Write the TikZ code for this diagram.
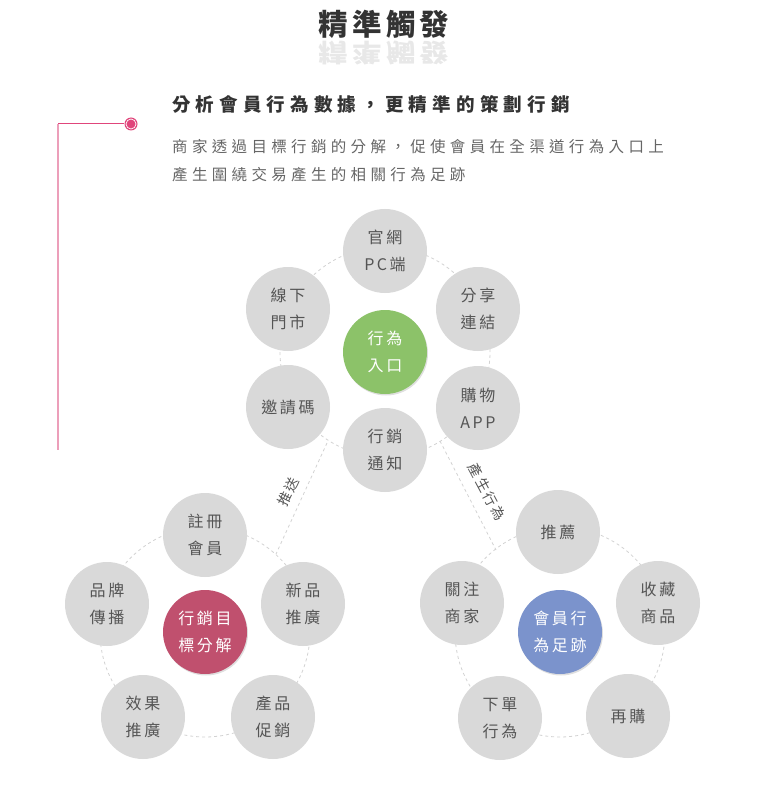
\documentclass[tikz,border=0pt]{standalone}
\usepackage{fontspec}
\setmainfont{Noto Sans CJK TC}
\newfontfamily\titlefam[LetterSpace=14]{Noto Sans CJK TC}
\newfontfamily\subfam[LetterSpace=28]{Noto Sans CJK TC}
\newfontfamily\bodyfam[LetterSpace=28]{Noto Sans CJK TC}
\newfontfamily\bubfam[LetterSpace=16]{Noto Sans CJK TC}
\newcommand\titlefont{\titlefam\bfseries\fontsize{29.5}{33}\selectfont}
\newcommand\subfont{\subfam\bfseries\fontsize{18.5}{22}\selectfont}
\newcommand\bodyfont{\bodyfam\fontsize{15.5}{20}\selectfont}
\newcommand\bubfont{\bubfam\fontsize{16}{27}\selectfont}
\newcommand\lblfont{\bubfam\fontsize{14}{18}\selectfont}
\usetikzlibrary{shadows}
\definecolor{circgray}{HTML}{D9D9D9}
\definecolor{txtgray}{HTML}{555555}
\definecolor{titlegray}{HTML}{333333}
\definecolor{bodygray}{HTML}{666666}
\definecolor{greenc}{HTML}{8CC269}
\definecolor{redc}{HTML}{C0506E}
\definecolor{bluec}{HTML}{7B93CC}
\definecolor{pinkdot}{HTML}{E0457B}
\definecolor{pinkline}{HTML}{EC9FBA}
\definecolor{ringgray}{HTML}{D2D2D2}
\tikzset{
  bub/.style={circle, fill=circgray, minimum size=84pt, inner sep=0pt, align=center, text=txtgray, font=\bubfont},
  ctr/.style={bub, fill=#1, text=white, drop shadow={opacity=0.25, shadow xshift=1pt, shadow yshift=-1.5pt}},
  ring/.style={draw=ringgray, line width=0.8pt, dash pattern=on 3pt off 3pt},
  conn/.style={draw=ringgray, line width=0.8pt, dash pattern=on 3pt off 3pt},
  lbl/.style={text=txtgray, font=\lblfont, inner sep=1pt},
}
\begin{document}
\begin{tikzpicture}[x=1pt, y=-1pt]
\useasboundingbox (0,0) rectangle (769,799);
% title
\node[font=\titlefont, text=titlegray] (title) at (384,24) {精準觸發};
\node[font=\titlefont, text=black!9, yscale=-0.85] (refl) at (384,53) {精準觸發};
% accent line
\coordinate (lc0) at (58,124);
\coordinate (lc1) at (58,450);
\node[circle, fill=pinkdot, minimum size=13pt, inner sep=0pt] (dot) at (131,124) {};
\draw[white, line width=0.7pt] (dot.center) circle[radius=5pt];
\draw[pinkline, line width=2pt] (lc0) -- (lc1);
\draw[pinkdot, line width=1pt] (lc0) -- (dot);
% texts
\node[anchor=west, font=\subfont, text=titlegray, inner sep=0pt] (sub) at (172,104) {分析會員行為數據，更精準的策劃行銷};
\node[anchor=west, font=\bodyfont, text=bodygray, inner sep=0pt] (body1) at (172,147) {商家透過目標行銷的分解，促使會員在全渠道行為入口上};
\node[anchor=west, font=\bodyfont, text=bodygray, inner sep=0pt] (body2) at (172,175) {產生圍繞交易產生的相關行為足跡};
% centres for rings
\coordinate (tcc) at (385,352);
\coordinate (lcc) at (205,632);
\coordinate (rcc) at (560,632);
\draw[ring] (tcc) circle[radius=105pt];
\draw[ring] (lcc) circle[radius=105pt];
\draw[ring] (rcc) circle[radius=105pt];
% connectors
\coordinate (pa) at (327,443);
\coordinate (pb) at (276,554);
\coordinate (qa) at (440,441);
\coordinate (qb) at (496,550);
\draw[conn] (pa) -- (pb);
\draw[conn] (qa) -- (qb);
\node[lbl, rotate=64] (push) at (288,492) {推送};
\node[lbl, rotate=-62] (gen) at (487,492) {產生行為};
% top cluster
\node[bub] (t1) at (385,251) {官網\\PC端};
\node[bub] (t2) at (478,309) {分享\\連結};
\node[bub] (t3) at (478,408) {購物\\APP};
\node[bub] (t4) at (385,450) {行銷\\通知};
\node[bub] (t5) at (288,407) {邀請碼};
\node[bub] (t6) at (288,309) {線下\\門市};
\node[ctr=greenc] (tc) at (tcc) {行為\\入口};
% left cluster
\node[bub] (l1) at (205,535) {註冊\\會員};
\node[bub] (l2) at (303,604) {新品\\推廣};
\node[bub] (l3) at (273,717) {產品\\促銷};
\node[bub] (l4) at (143,717) {效果\\推廣};
\node[bub] (l5) at (107,604) {品牌\\傳播};
\node[ctr=redc] (lc) at (lcc) {行銷目\\標分解};
% right cluster
\node[bub] (r1) at (558,532) {推薦};
\node[bub] (r2) at (658,603) {收藏\\商品};
\node[bub] (r3) at (628,716) {再購};
\node[bub] (r4) at (500,718) {下單\\行為};
\node[bub] (r5) at (462,603) {關注\\商家};
\node[ctr=bluec] (rc) at (rcc) {會員行\\為足跡};
\end{tikzpicture}
\end{document}
